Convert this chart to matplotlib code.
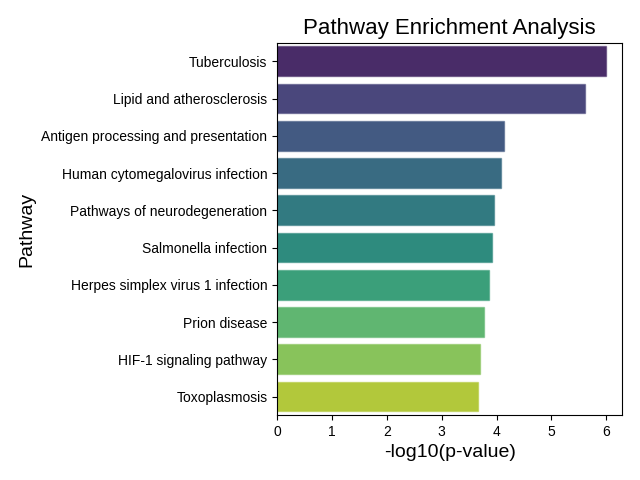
import matplotlib
matplotlib.use("Agg")
import matplotlib.pyplot as plt
import seaborn as sns
import pandas as pd

plt.rcParams['font.family'] = ['Liberation Sans', 'DejaVu Sans']

pathways = [
    "Tuberculosis",
    "Lipid and atherosclerosis",
    "Antigen processing and presentation",
    "Human cytomegalovirus infection",
    "Pathways of neurodegeneration",
    "Salmonella infection",
    "Herpes simplex virus 1 infection",
    "Prion disease",
    "HIF-1 signaling pathway",
    "Toxoplasmosis",
]
neg_log_p = [5.99, 5.61, 4.14, 4.08, 3.96, 3.92, 3.87, 3.78, 3.70, 3.67]

df = pd.DataFrame({"Pathway": pathways, "-log10(p-value)": neg_log_p})

fig, ax = plt.subplots(figsize=(6.4, 4.8), dpi=100)
sns.barplot(data=df, x="-log10(p-value)", y="Pathway", hue="Pathway",
            palette="viridis", legend=False, ax=ax)

# thin, lighter outline around each bar
for p in ax.patches:
    fc = p.get_facecolor()
    p.set_edgecolor((fc[0], fc[1], fc[2], 0.55))
    p.set_linewidth(1.0)

ax.set_title("Pathway Enrichment Analysis", fontsize=16)
ax.set_xlabel("-log10(p-value)", fontsize=14)
ax.set_ylabel("Pathway", fontsize=14)

fig.subplots_adjust(left=0.433, right=0.972, top=0.911, bottom=0.135)
plt.savefig("out.png")
